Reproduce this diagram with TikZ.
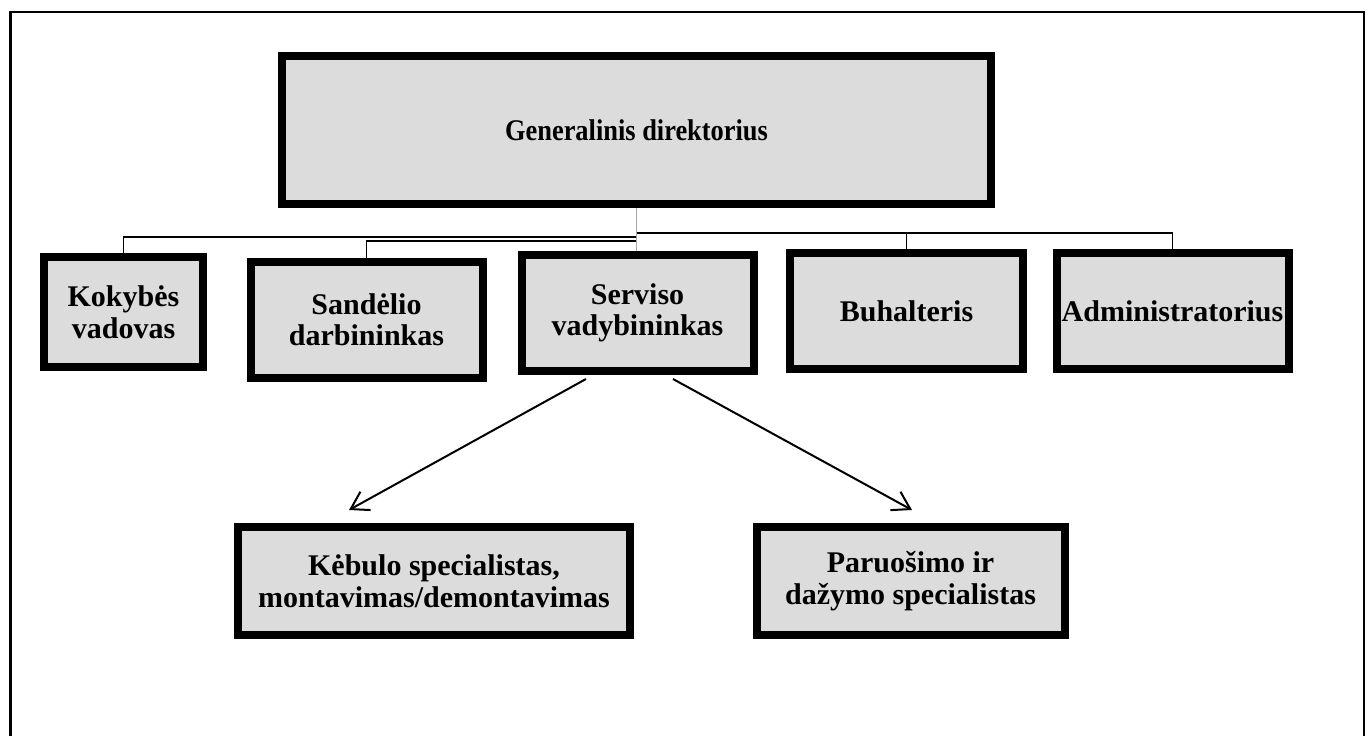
\documentclass[tikz,border=0pt]{standalone}
\usepackage{fontspec}
\setmainfont{Liberation Serif}
\usepackage{tikz}
\usetikzlibrary{arrows.meta}

\definecolor{boxgray}{RGB}{220,220,220}

\begin{document}
\begin{tikzpicture}[x=1pt,y=-1pt,
    post/.style={draw=black,fill=boxgray,line width=8pt,inner sep=0pt,
      align=center,font=\fontsize{30}{31.5}\selectfont\bfseries},
    link/.style={line width=1.2pt},
    arrow/.style={line width=2pt,-{Straight Barb[length=17pt,width=21pt,line width=2pt]}}]
  \useasboundingbox (0,0) rectangle (1369,736);
  \clip (0,0) rectangle (1369,736);
  % outer frame
  \draw[line width=2.5pt] (10.7,760) -- (10.7,12) -- (1364,12) -- (1364,760);

  \node[post,minimum width=709pt,minimum height=148pt] (gen) at (636.5,130)
    {\scalebox{0.88}[1]{Generalinis direktorius}};
  \node[post,minimum width=159pt,minimum height=110pt] (kok) at (123.5,312) {Kokybės\\vadovas};
  \node[post,minimum width=232pt,minimum height=116pt] (san) at (366.5,319.5) {Sandėlio\\darbininkas};
  \node[post,minimum width=232pt,minimum height=116pt] (ser) at (637.5,313) {Serviso\\vadybininkas};
  \node[post,minimum width=233pt,minimum height=116pt] (buh) at (906.5,311) {Buhalteris};
  \node[post,minimum width=232pt,minimum height=116pt] (adm) at (1172.5,311) {Administratorius};
  \node[post,minimum width=392pt,minimum height=108pt] (keb) at (434,581)
    {Kėbulo specialistas,\\montavimas/demontavimas};
  \node[post,minimum width=308pt,minimum height=108pt] (par) at (910.5,581)
    {Paruošimo ir\\dažymo specialistas};

  % tree lines
  \draw[link] (gen.south) -- ++(0,29) -| (kok.north);
  \draw[link] (gen.south) -- ++(0,33) -| (san.north);
  \draw[link] (gen.south) -- ++(0,25) -| (buh.north);
  \draw[link] (gen.south) -- ++(0,25) -| (adm.north);
  \draw[link,gray!70] (gen.south) -- (gen.south |- ser.north);

  % arrows
  \draw[arrow] ([xshift=-51.5pt,yshift=-4pt]ser.south) -- ([xshift=-85pt,yshift=13pt]keb.north);
  \draw[arrow] ([xshift=35.5pt,yshift=-4pt]ser.south) -- ([xshift=1.5pt,yshift=13pt]par.north);
\end{tikzpicture}
\end{document}
